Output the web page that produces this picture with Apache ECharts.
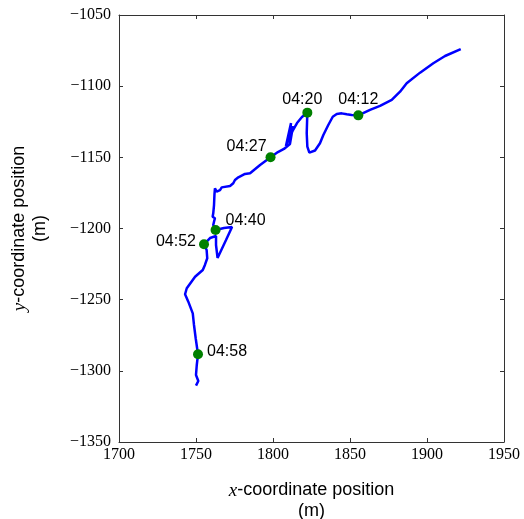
<!DOCTYPE html>
<html>
<head>
<meta charset="utf-8">
<script src="https://cdn.jsdelivr.net/npm/echarts@6/dist/echarts.min.js"></script>
<style>
  html, body { margin: 0; padding: 0; background: #fff; }
  #chart { width: 524px; height: 519px; }
</style>
</head>
<body>
<div id="chart"></div>
<script>
// Track of the walk, in metres (x east, y north), in time order
const trackX = [
  1921.9, 1911.7, 1904.1, 1895.5, 1886.8, 1882.5, 1877.1, 1869.5, 1863.0, 1855.4,
  1851.1, 1847.9, 1844.6, 1841.4, 1838.8, 1835.9, 1832.7, 1830.5, 1827.3, 1823.6,
  1822.3, 1821.9, 1822.3, 1818.8, 1815.6, 1813.0, 1810.4, 1808.4, 1811.7, 1810.4,
  1813.0, 1811.0, 1807.1, 1803.2, 1798.4, 1791.6, 1785.1, 1781.8, 1777.5, 1775.3,
  1774.2, 1772.1, 1766.7, 1765.6, 1763.4, 1762.3, 1762.0, 1761.7, 1761.2, 1760.8,
  1762.3, 1761.7, 1761.2, 1762.7, 1768.2, 1773.4, 1769.5, 1764.0, 1763.0, 1763.0,
  1759.1, 1755.2, 1756.9, 1757.3, 1755.8, 1754.4, 1749.4, 1744.0, 1742.9, 1745.0,
  1747.9, 1748.7, 1749.8, 1751.3, 1750.5, 1750.0, 1751.5, 1750.0
];
const trackY = [
  -1073.9, -1078.8, -1083.9, -1090.5, -1098.0, -1103.9, -1109.7, -1113.9, -1116.7, -1120.5,
  -1120.3, -1119.8, -1119.1, -1119.6, -1121.5, -1127.3, -1134.3, -1140.1, -1145.2, -1146.7,
  -1142.5, -1133.1, -1118.6, -1121.7, -1125.9, -1130.8, -1137.1, -1142.0, -1125.9, -1137.8,
  -1128.0, -1140.6, -1144.1, -1146.3, -1150.0, -1155.4, -1161.2, -1161.7, -1164.0, -1165.9,
  -1168.2, -1170.1, -1171.1, -1173.0, -1174.1, -1171.8, -1175.8, -1183.5, -1189.3, -1191.7,
  -1192.8, -1195.2, -1197.5, -1201.1, -1199.6, -1199.0, -1208.1, -1220.7, -1211.6, -1205.3,
  -1206.7, -1211.1, -1215.1, -1220.9, -1225.6, -1229.2, -1233.9, -1242.0, -1246.2, -1251.4,
  -1259.6, -1267.8, -1277.1, -1288.4, -1295.9, -1302.9, -1307.1, -1310.4
];

// Time stamps marked along the track
const stampTimes = ['04:12', '04:20', '04:27', '04:40', '04:52', '04:58'];
const stampX = [1855.4, 1822.3, 1798.4, 1762.7, 1755.2, 1751.3];
const stampY = [-1120.5, -1118.6, -1150.0, -1201.1, -1211.1, -1288.4];

// Axis ranges and tick spacing
const xRange = [1700, 1950];
const yRange = [-1350, -1050];
const tickStep = 50;

// Where each time label sits relative to its dot
const stampLabelPlace = [
  { position: 'top', offset: [0, 3] },
  { position: 'top', offset: [-5, 6] },
  { position: 'left', offset: [7, -11] },
  { position: 'right', offset: [-1, -9] },
  { position: 'left', offset: [3, -3] },
  { position: 'right', offset: [-2, -3] }
];

const serif = '"Liberation Serif", "DejaVu Serif", serif';
const sans = '"Liberation Sans", Arial, sans-serif';
const frame = '#333333';

const track = trackX.map((x, i) => [x, trackY[i]]);
const stamps = stampTimes.map((t, i) => ({
  value: [stampX[i], stampY[i]],
  name: t,
  label: {
    show: true,
    formatter: t,
    position: stampLabelPlace[i].position,
    offset: stampLabelPlace[i].offset,
    distance: 6,
    fontFamily: sans,
    fontSize: 16,
    color: '#000',
    opacity: 1
  }
}));

const minus = v => String(v).replace('-', '\u2212');
const plain = v => String(v);

const nameStyle = {
  fontFamily: sans, fontSize: 18, color: '#000', lineHeight: 21,
  rich: { i: { fontFamily: serif, fontStyle: 'italic', fontSize: 19, color: '#000' } }
};

const chart = echarts.init(document.getElementById('chart'), null, { renderer: 'canvas' });
chart.setOption({
  animation: false,
  backgroundColor: '#fff',
  grid: { left: 119, right: 20, top: 15, bottom: 77, containLabel: false, outerBoundsMode: 'none' },
  xAxis: [
    {
      type: 'value', min: xRange[0], max: xRange[1], interval: tickStep,
      position: 'bottom',
      name: '{i|x}-coordinate position\n(m)',
      nameLocation: 'middle', nameGap: 38,
      nameTextStyle: nameStyle,
      axisLine: { show: true, lineStyle: { color: frame, width: 1 } },
      axisTick: { show: true, inside: true, length: 4, lineStyle: { color: frame } },
      axisLabel: { fontFamily: serif, fontSize: 16, color: '#000', margin: 5, formatter: plain },
      splitLine: { show: false }
    },
    {
      type: 'value', min: xRange[0], max: xRange[1], interval: tickStep,
      position: 'top',
      axisLine: { show: true, lineStyle: { color: frame, width: 1 } },
      axisTick: { show: true, inside: true, length: 4, lineStyle: { color: frame } },
      axisLabel: { show: false },
      splitLine: { show: false }
    }
  ],
  yAxis: [
    {
      type: 'value', min: yRange[0], max: yRange[1], interval: tickStep,
      position: 'left',
      name: '{i|y}-coordinate position\n(m)',
      nameLocation: 'middle', nameGap: 68,
      nameTextStyle: nameStyle,
      axisLine: { show: true, lineStyle: { color: frame, width: 1 } },
      axisTick: { show: true, inside: true, length: 4, lineStyle: { color: frame } },
      axisLabel: { fontFamily: serif, fontSize: 16, color: '#000', margin: 8, formatter: minus },
      splitLine: { show: false }
    },
    {
      type: 'value', min: yRange[0], max: yRange[1], interval: tickStep,
      position: 'right',
      axisLine: { show: true, lineStyle: { color: frame, width: 1 } },
      axisTick: { show: true, inside: true, length: 4, lineStyle: { color: frame } },
      axisLabel: { show: false },
      splitLine: { show: false }
    }
  ],
  series: [
    {
      type: 'line',
      data: track,
      showSymbol: false,
      smooth: false,
      lineStyle: { color: '#0000ff', width: 2.5 },
      z: 2
    },
    {
      type: 'scatter',
      data: stamps,
      symbol: 'circle',
      symbolSize: 10,
      itemStyle: { color: '#008000', opacity: 1 },
      z: 3
    }
  ]
});
</script>
</body>
</html>
